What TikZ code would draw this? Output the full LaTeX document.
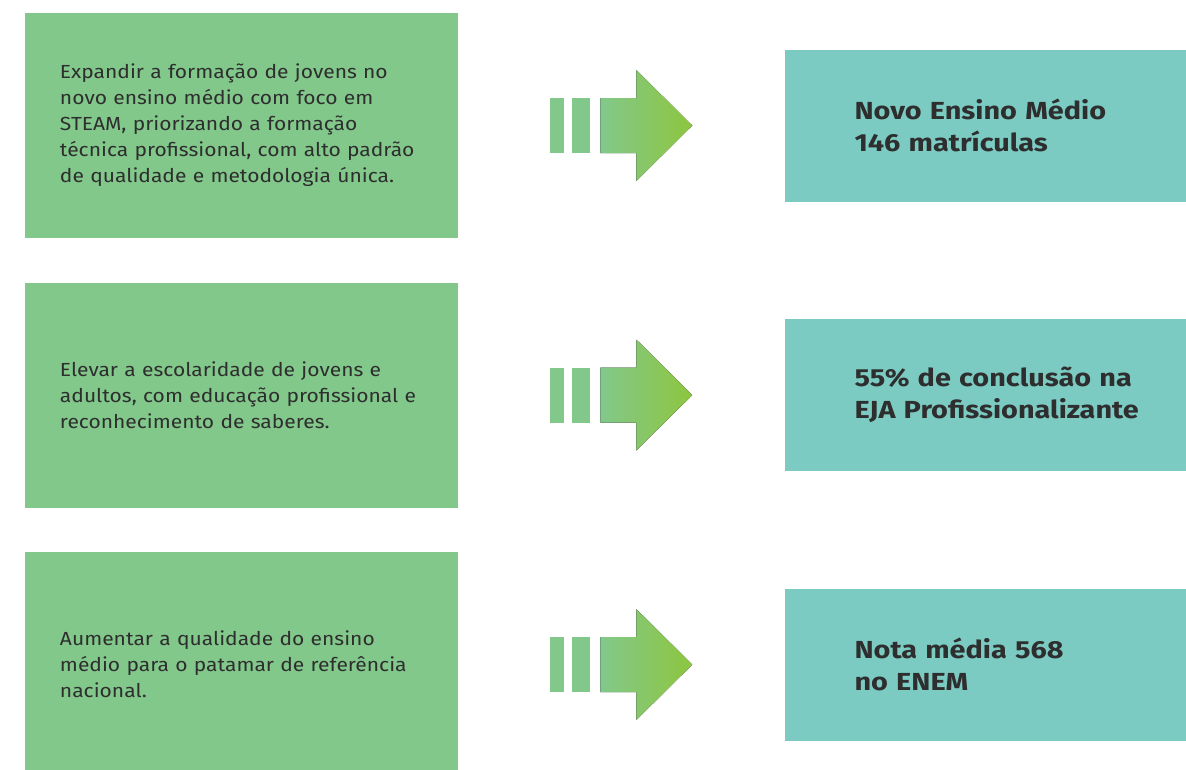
\documentclass[tikz,border=0pt]{standalone}
\usepackage{fontspec}
\setmainfont{Fira Sans}[FakeStretch=1.11,BoldFeatures={FakeStretch=1.17}]
\usetikzlibrary{positioning,calc}

\definecolor{metaverde}{HTML}{82C88B}
\definecolor{resteal}{HTML}{7BCBC3}
\definecolor{setafim}{HTML}{8DC63F}
\definecolor{textocinza}{HTML}{2E2E2E}

\tikzset{
  meta/.style={fill=metaverde,minimum width=324.75pt,minimum height=168.75pt,
    inner xsep=26.25pt,text width=272.25pt,align=left,text=textocinza,
    font=\fontsize{14.2}{19.5}\selectfont},
  resultado/.style={fill=resteal,minimum width=301.5pt,minimum height=114pt,
    inner xsep=5pt,text width=291.5pt,align=left,text=textocinza,
    execute at begin node={\leftskip=47.5pt},
    font=\fontsize{18.5}{24}\selectfont\bfseries},
  seta/.pic={
    \fill[metaverde] (-71,-27.5) rectangle (-57,27.5);
    \fill[metaverde] (-49,-27.5) rectangle (-31,27.5);
    \fill[left color=metaverde,right color=setafim]
      (-21,-27.5) -- (15,-27.5) -- (15,-55.5) -- (71,0) -- (15,55.5)
      -- (15,27.5) -- (-21,27.5) -- cycle;
  }
}

\begin{document}
\begin{tikzpicture}[x=0.75pt,y=-0.75pt,node distance=33pt and 244.5pt]
  \clip (0,0) rectangle (1186,769);
  \useasboundingbox (0,0) rectangle (1186,769);

  \node[meta] (meta1) at (241.5,125.5) {Expandir a formação de jovens no\\
    novo ensino médio com foco em\\
    STEAM, priorizando a formação\\
    técnica profissional, com alto padrão\\
    de qualidade e metodologia única.};
  \node[meta] (meta2) [below = of meta1] {Elevar a escolaridade de jovens e\\
    adultos, com educação profissional e\\
    reconhecimento de saberes.};
  \node[meta] (meta3) [below = of meta2] {Aumentar a qualidade do ensino\\
    médio para o patamar de referência\\
    nacional.};

  \node[resultado] (res1) [right = of meta1] {Novo Ensino Médio\\146 matrículas};
  \node[resultado] (res2) [right = of meta2] {55\% de conclusão na\\EJA Profissionalizante};
  \node[resultado] (res3) [right = of meta3] {Nota média 568\\no ENEM};

  \pic at ($(meta1.east)!0.5!(res1.west)$) {seta};
  \pic at ($(meta2.east)!0.5!(res2.west)$) {seta};
  \pic at ($(meta3.east)!0.5!(res3.west)$) {seta};
\end{tikzpicture}
\end{document}
